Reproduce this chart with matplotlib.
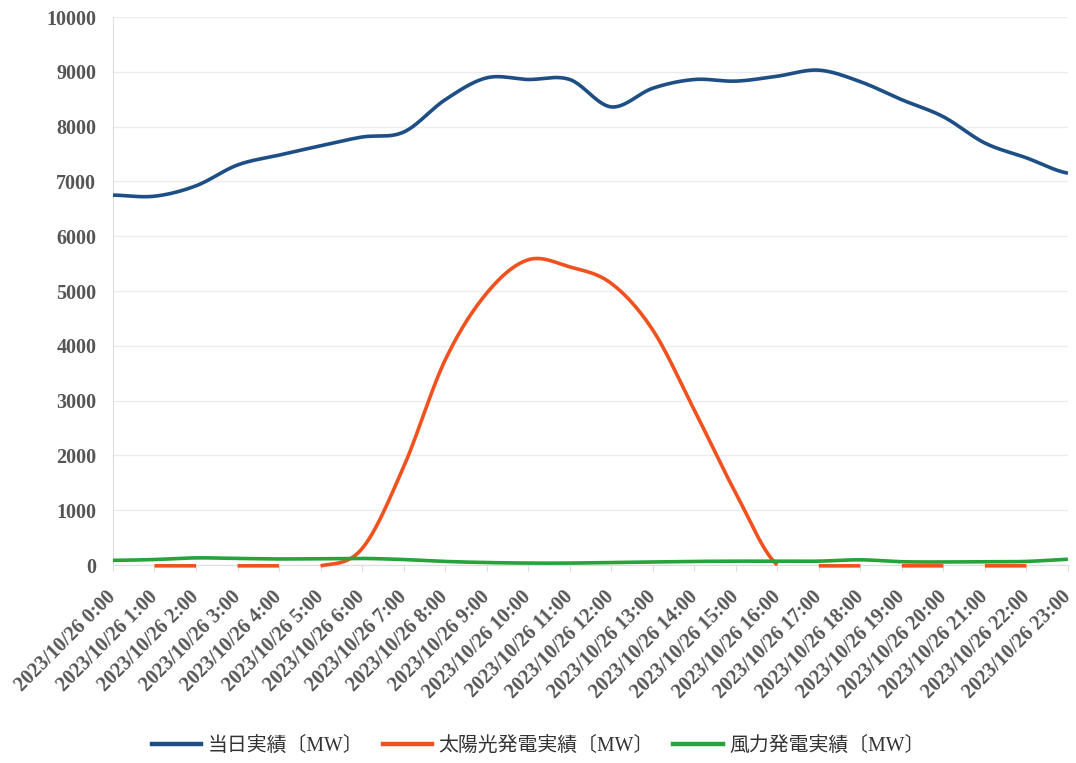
import numpy as np
import matplotlib
matplotlib.use('Agg')
import matplotlib.pyplot as plt
import matplotlib.transforms as mtransforms
from matplotlib.lines import Line2D

# hourly values (MW)
hours = list(range(24))
hour_labels = ['2023/10/26 %d:00' % h for h in hours]
demand = [6750, 6730, 6920, 7300, 7480, 7650, 7810, 7900, 8490, 8890,
          8860, 8860, 8360, 8700, 8860, 8830, 8920, 9030, 8820, 8490,
          8180, 7700, 7430, 7150]
solar = [-15, -15, -15, -15, -15, -15, 300, 1790, 3740, 4960,
         5570, 5440, 5140, 4290, 2830, 1310, 0, -15, -15, -15,
         -15, -15, -15, -15]
wind = [85, 100, 130, 120, 110, 115, 120, 100, 65, 45,
        35, 35, 45, 55, 65, 70, 70, 70, 95, 60,
        55, 60, 65, 105]
series_names = ['当日実績〔MW〕', '太陽光発電実績〔MW〕', '風力発電実績〔MW〕']
colors = ['#1d4f86', '#f0521f', '#26a33a']


def smooth(x, y, n=24):
    # catmull-rom style smoothing like spreadsheet "smoothed lines"
    x = np.asarray(x, float)
    y = np.asarray(y, float)
    p = np.concatenate([[y[0]], y, [y[-1]]])
    xs, ys = [], []
    for i in range(len(y) - 1):
        t = np.linspace(0, 1, n, endpoint=False)
        p0, p1, p2, p3 = p[i], p[i + 1], p[i + 2], p[i + 3]
        v = 0.5 * ((2 * p1) + (-p0 + p2) * t + (2 * p0 - 5 * p1 + 4 * p2 - p3) * t ** 2
                   + (-p0 + 3 * p1 - 3 * p2 + p3) * t ** 3)
        xs.append(x[i] + t * (x[i + 1] - x[i]))
        ys.append(v)
    xs.append([x[-1]])
    ys.append([y[-1]])
    return np.concatenate(xs), np.concatenate(ys)


fig = plt.figure(figsize=(10.76, 7.63), dpi=100)
ax = fig.add_axes([0.105, 0.2595, 0.8875, 0.7182])

for vals, c in zip([demand, solar, wind], colors):
    sx, sy = smooth(hours, vals)
    if vals is solar:
        # the night part of the solar line shows as broken pieces
        sy = sy.copy()
        arr = np.array(vals)
        for h in range(len(hours) - 1):
            if h % 2 == 0 and arr[h] <= 0 and arr[h + 1] <= 0:
                m = (sx > h) & (sx < h + 1)
                sy[m] = np.nan
    ax.plot(sx, sy, color=c, lw=2.6, solid_capstyle='butt', clip_on=False,
            zorder=3)

ax.set_xlim(0, 23)
ax.set_ylim(0, 10000)
ax.set_yticks(range(0, 10001, 1000))
ax.set_xticks(hours)
ax.set_xticklabels(hour_labels, rotation=45, ha='right', va='top',
                   rotation_mode='anchor')
ax.grid(axis='y', color='#ececec', lw=1)
ax.set_axisbelow(True)
for s in ['top', 'right']:
    ax.spines[s].set_visible(False)
ax.spines['left'].set_color('#dddddd')
ax.spines['bottom'].set_color('#dddddd')
ax.tick_params(axis='y', length=0, pad=12)
ax.tick_params(axis='x', length=4, color='#dddddd', pad=12)
shift = mtransforms.ScaledTranslation(-5 / 72, 0, fig.dpi_scale_trans)
for lab in ax.get_xticklabels() + ax.get_yticklabels():
    lab.set_family('Liberation Serif')
    lab.set_fontsize(14.5)
    lab.set_fontweight('bold')
    lab.set_color('#555555')
for lab in ax.get_xticklabels():
    lab.set_transform(lab.get_transform() + shift)

handles = [Line2D([], [], color=c, lw=3.2) for c in colors]
fig.legend(handles, series_names, loc='center', bbox_to_anchor=(0.5, 0.022),
           ncol=3, frameon=False, handlelength=2.5, handletextpad=0.3,
           columnspacing=1.0,
           prop={'family': ['Liberation Serif', 'Noto Sans CJK JP'], 'size': 14.3})
for t in fig.legends[0].get_texts():
    t.set_color('#333333')

fig.savefig('out.png', dpi=100, facecolor='white')
